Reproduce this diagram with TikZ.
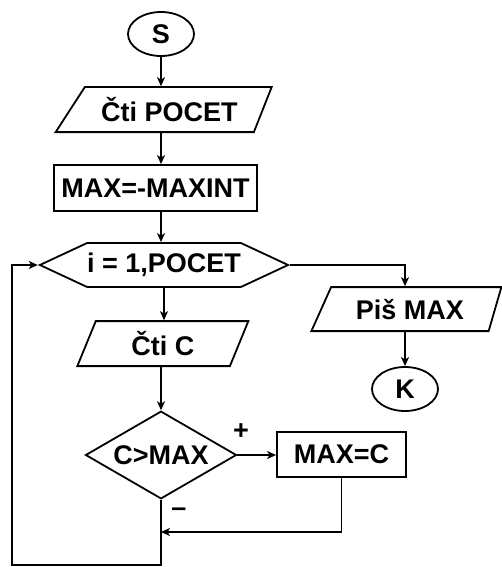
\documentclass[tikz,border=0pt]{standalone}
\usepackage{fontspec}
\setmainfont{Liberation Sans}
\usetikzlibrary{shapes.geometric,shapes.symbols,arrows.meta}

\begin{document}
\begin{tikzpicture}[x=10pt,y=10pt,>={Stealth[length=9pt,width=8pt,inset=2.5pt]}]

\tikzstyle{base} = [draw=black,line width=1.8pt,font=\fontsize{27}{27}\selectfont\bfseries,inner sep=0pt];%
\tikzstyle{term} = [base,ellipse,minimum width=66pt,minimum height=44pt];
\tikzstyle{io} = [base,trapezium,trapezium stretches body,minimum height=45pt];
\tikzstyle{proc} = [base,rectangle,minimum height=46pt];
\tikzstyle{loopbox} = [base,signal,signal to=west and east,signal pointer angle=50,minimum height=44pt];
\tikzstyle{test} = [base,diamond,aspect=1.39,minimum width=151pt];
\tikzstyle{flow} = [->,line width=1.8pt];
\tikzstyle{sign} = [font=\fontsize{27}{27}\selectfont\bfseries,inner sep=0pt];

\useasboundingbox (0,0) rectangle (50.2,-56.7);

\node[term] at (16.1,-3.4) (S) {S};
\node[io,trapezium left angle=40,trapezium right angle=126,minimum width=216pt,anchor=bottom left corner] at (5.4,-13.3) (read1) {Čti POCET};
\node[proc,minimum width=203pt] at (15.55,-18.8) (init) {MAX=-MAXINT};
\node[loopbox,minimum width=242pt] at (16.4,-26.5) (loop) {i = 1,POCET};
\node[io,trapezium left angle=53,trapezium right angle=127,minimum width=171pt,anchor=bottom left corner] at (7.6,-36.7) (readc) {Čti C};
\node[test] at (16.1,-45.5) (cmp) {C>MAX};
\node[proc,minimum width=129pt,minimum height=45pt] at (34.15,-45.45) (set) {MAX=C};
\node[io,trapezium left angle=46,trapezium right angle=122,minimum width=190pt,minimum height=44pt,anchor=bottom left corner] at (31.0,-33.2) (write) {Piš MAX};
\node[term] at (40.5,-38.9) (K) {K};

\node[sign] at (24.1,-43.2) (plus) {+};
\node[sign] at (17.9,-51.2) (minus) {–};

\coordinate (join) at (16.1,-53.2);
\coordinate (back) at (1.2,-56.5);

\path (S) edge[flow] (S |- read1.north);
\path (S |- read1.south) edge[flow] (S |- init.north);
\path (S |- init.south) edge[flow] (S |- loop.north);
\path (loop.south) edge[flow] (loop.south |- readc.north);
\path (cmp |- readc.south) edge[flow] (cmp.north);
\path (cmp.east) edge[flow] (cmp.east -| set.west);
\draw[flow] (set.south) |- (join);
\draw[flow] (cmp.south) |- (back) |- (loop.west);
\draw[flow] (loop.east) -| (K |- write.north);
\path (K |- write.south) edge[flow] (K.north);

\end{tikzpicture}
\end{document}
